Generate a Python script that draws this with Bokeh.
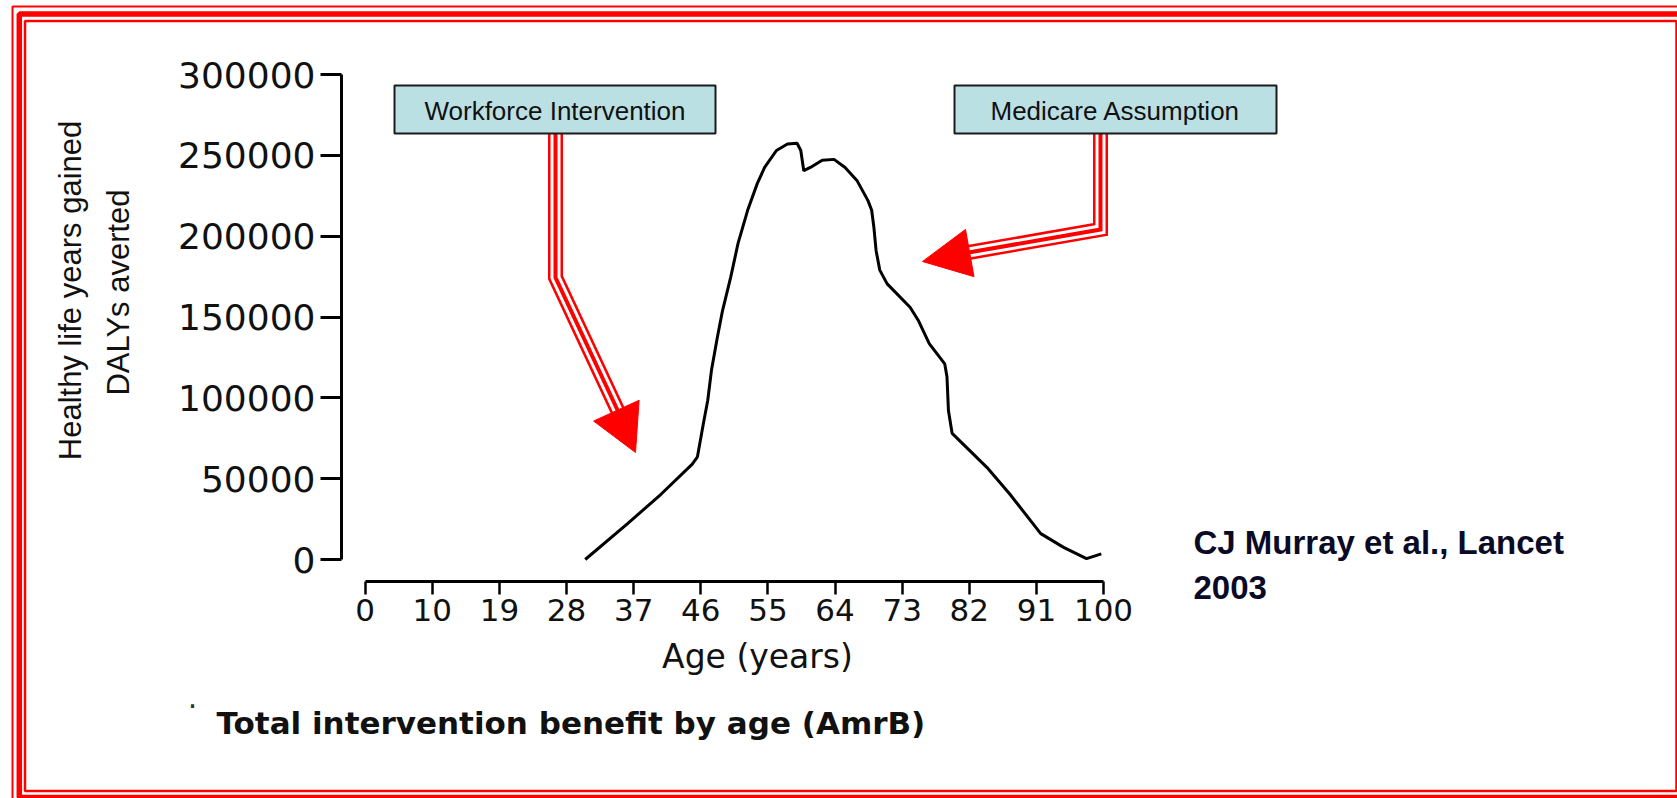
import math

from bokeh.core.properties import value
from bokeh.embed import file_html
from bokeh.models import (FixedTicker, LinearAxis, NumeralTickFormatter,
                          Range1d)
from bokeh.plotting import figure
from bokeh.resources import INLINE

# ---------------------------------------------------------------- data
age = [29.8, 35.5, 40.1, 44.3, 45.0, 45.8, 46.4, 46.9, 47.7, 48.4, 49.5,
       50.5, 51.8, 53.1, 54.1, 55.7, 57.2, 58.5, 59.0, 59.4, 60.3, 61.9,
       63.5, 65.0, 66.6, 68.1, 68.6, 68.9, 69.2, 69.7, 70.7, 73.8, 74.9,
       76.4, 78.5, 78.8, 79.0, 79.5, 84.2, 87.3, 91.5, 94.6, 97.7, 99.7]
dalys_averted = [0, 22000, 40500, 59000, 63500, 84000, 98500, 117000,
                 137500, 154000, 174500, 195500, 216000, 232500, 242500,
                 253000, 257000, 257500, 253000, 240500, 242500, 247000,
                 247500, 242500, 234500, 222000, 216000, 205500, 191000,
                 179000, 170500, 156000, 148000, 133500, 121000, 113000,
                 92000, 78000, 57000, 40500, 16000, 7500, 500, 3500]

x_tick_labels = ["0", "10", "19", "28", "37", "46", "55", "64", "73",
                 "82", "91", "100"]
y_ticks = [0, 50000, 100000, 150000, 200000, 250000, 300000]

x_title = "Age (years)"
y_title = ["Healthy life years gained", "DALYs averted"]
caption = "Total intervention benefit by age (AmrB)"
citation = ["CJ Murray et al., Lancet", "2003"]
callouts = ["Workforce Intervention", "Medicare Assumption"]

# ---------------------------------------------------------------- layout
W, H = 1677, 798
X0_PX, X100_PX = 364.7, 1103.0      # where age 0 and 100 sit
Y0_PX, YTOP_PX = 559.0, 74.0        # where 0 and 300000 sit
YMAX = 300000
XAXIS_PX, YAXIS_PX = 581.0, 341.0   # detached axis lines

sx = 100.0 / (X100_PX - X0_PX)
sy = YMAX / (Y0_PX - YTOP_PX)

p = figure(width=W, height=H,
           x_range=Range1d(-X0_PX * sx, (W - X0_PX) * sx),
           y_range=Range1d(-(H - Y0_PX) * sy, Y0_PX * sy),
           x_axis_type=None, y_axis_type=None,
           output_backend="svg", toolbar_location=None, min_border=0)
p.extra_x_ranges = {"px": Range1d(0, W)}
p.extra_y_ranges = {"px": Range1d(H, 0)}
p.outline_line_color = None
p.background_fill_color = "white"
p.border_fill_color = "white"

PX = dict(x_range_name="px", y_range_name="px")
SANS = "Liberation Sans"
WIDE = "DejaVu Sans"

# ---------------------------------------------------------------- axes
x_tick_pos = [k * 100.0 / (len(x_tick_labels) - 1)
              for k in range(len(x_tick_labels))]
xaxis = LinearAxis(ticker=FixedTicker(ticks=x_tick_pos),
                   bounds=(0, 100),
                   fixed_location=(Y0_PX - XAXIS_PX) * sy,
                   major_label_overrides=dict(zip(x_tick_pos, x_tick_labels)))
xaxis.axis_line_width = 3
xaxis.major_tick_line_width = 2.5
xaxis.major_tick_out = 13
xaxis.major_tick_in = 0
xaxis.minor_tick_out = 0
xaxis.minor_tick_in = 0
xaxis.major_label_standoff = 4
xaxis.major_label_text_font = WIDE
xaxis.major_label_text_font_size = "31px"
xaxis.major_label_text_color = "#111111"
p.add_layout(xaxis, "below")

yaxis = LinearAxis(ticker=FixedTicker(ticks=y_ticks),
                   bounds=(0, YMAX),
                   fixed_location=(YAXIS_PX - X0_PX) * sx,
                   formatter=NumeralTickFormatter(format="0"))
yaxis.axis_line_width = 3
yaxis.major_tick_line_width = 3
yaxis.major_tick_out = 21
yaxis.major_tick_in = 0
yaxis.minor_tick_out = 0
yaxis.minor_tick_in = 0
yaxis.major_label_standoff = 5
yaxis.major_label_text_font = WIDE
yaxis.major_label_text_font_size = "36px"
yaxis.major_label_text_color = "#111111"
p.add_layout(yaxis, "left")

# ---------------------------------------------------------------- curve
p.line(age, dalys_averted, line_color="black", line_width=3)

# ---------------------------------------------------------------- titles
p.text([757], [656], text=[x_title], text_font=value(WIDE),
       text_font_size="33px", text_align="center", text_baseline="middle",
       text_color="#111111", **PX)
p.text([70, 118], [290, 292], text=y_title, angle=math.pi / 2,
       text_font=value(SANS), text_font_size="31px", text_align="center",
       text_baseline="middle", text_color="#111111", **PX)

p.text([192], [706], text=["·"], text_font=value(WIDE),
       text_font_size="30px", text_align="center", text_baseline="middle",
       text_color="#333333", **PX)
p.text([216], [722.5], text=[caption], text_font=value(WIDE),
       text_font_style="bold", text_font_size="31px", text_align="left",
       text_baseline="alphabetic", text_color="#111111", **PX)

p.text([1193, 1193], [541.5, 586.5], text=citation,
       text_font=value(SANS), text_font_style="bold",
       text_font_size="33px", text_align="left", text_baseline="alphabetic",
       text_color="#0a0a26", **PX)


# ---------------------------------------------------------------- callouts
def triple_arrow(xs, ys, tip, head_len, head_half):
    """Red compound-line arrow: red/white/red stroke plus a solid head."""
    for width, color in ((15, "red"), (10, "white"), (4, "red")):
        p.line(xs, ys, line_color=color, line_width=width,
               line_join="miter", line_cap="butt", **PX)
    tx, ty = tip
    dx, dy = tx - xs[-2], ty - ys[-2]
    n = math.hypot(dx, dy)
    ux, uy = dx / n, dy / n
    bx, by = tx - ux * head_len, ty - uy * head_len
    hx = [tx, bx - uy * head_half, bx + uy * head_half]
    hy = [ty, by + ux * head_half, by - ux * head_half]
    p.patch(hx, hy, fill_color="red", line_color="red", line_width=1, **PX)


triple_arrow([555, 555, 620], [133, 277, 416], (635, 452), 46, 25)
triple_arrow([1100, 1100, 968], [133, 229, 252], (922, 261), 48, 24)

box_left = [394, 954]
box_right = [715, 1276]
p.quad(left=box_left, right=box_right, top=[85, 85], bottom=[133, 133],
       fill_color="#bbe0e3", line_color="#1a1a1a", line_width=2, **PX)
p.text([(a + b) / 2 for a, b in zip(box_left, box_right)], [110, 110],
       text=callouts, text_font=value(SANS),
       text_font_size="26px", text_align="center", text_baseline="middle",
       text_color="#111111", **PX)

# ---------------------------------------------------------------- frame
for (l, t, r, b, w) in ((24.5, 20.5, 1676, 790.5, 2.5),
                        (18.8, 13.5, 1683, 797, 5.5),
                        (12, 6, 1690, 805, 2)):
    p.quad(left=[l], right=[r], top=[t], bottom=[b], fill_color=None,
           line_color="red", line_width=w, **PX)

open("out.html", "w").write(file_html(p, INLINE))
